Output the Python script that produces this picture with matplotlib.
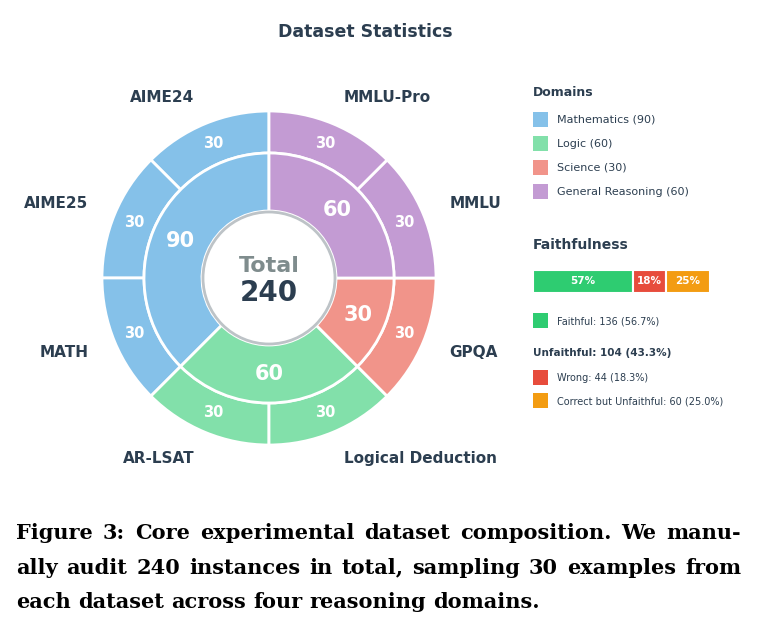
import matplotlib
matplotlib.use("Agg")
import matplotlib.pyplot as plt
from matplotlib.patches import Rectangle, Circle

domains = ["Mathematics", "Logic", "Science", "General Reasoning"]
domain_counts = [90, 60, 30, 60]
domain_colors = ["#85c1e9", "#82e0aa", "#f1948a", "#c39bd3"]
datasets = ["AIME24", "AIME25", "MATH", "AR-LSAT", "Logical Deduction", "GPQA", "MMLU", "MMLU-Pro"]
dataset_counts = [30, 30, 30, 30, 30, 30, 30, 30]
dataset_domain = [0, 0, 0, 1, 1, 2, 3, 3]
faith_labels = ["Faithful", "Wrong", "Correct but Unfaithful"]
faith_counts = [136, 44, 60]
faith_colors = ["#2ecc71", "#e74c3c", "#f39c12"]
total = sum(domain_counts)
dark = "#2c3e50"

W, H = 757, 632
fig = plt.figure(figsize=(W/100, H/100), dpi=100)

def fx(x): return x / W
def fy(y): return 1 - y / H

cx, cy, hs = 269, 278, 220
ax = fig.add_axes([fx(cx - hs), fy(cy + hs), 2*hs/W, 2*hs/H])
R = 167
ax.set_xlim(-hs, hs); ax.set_ylim(-hs, hs); ax.set_aspect("equal"); ax.axis("off")

outer_colors = [domain_colors[d] for d in dataset_domain]
wedges, texts, autot = ax.pie(dataset_counts, radius=R, startangle=90, counterclock=True,
       colors=outer_colors, labels=datasets, labeldistance=1.17,
       autopct=lambda p: f"{p*total/100:.0f}", pctdistance=(146/R),
       wedgeprops=dict(width=R-125, edgecolor="white", linewidth=2),
       textprops=dict(color=dark, fontsize=11, fontweight="bold"))
for t in autot:
    t.set_color("white"); t.set_fontsize(10.5)
w2, _, a2 = ax.pie(domain_counts, radius=125, startangle=90, counterclock=True,
       colors=domain_colors, autopct=lambda p: f"{p*total/100:.0f}", pctdistance=(96/125),
       wedgeprops=dict(width=125-67, edgecolor="white", linewidth=2),
       textprops=dict(color="white", fontsize=15, fontweight="bold"))
ax.set_xlim(-hs, hs); ax.set_ylim(-hs, hs)
ax.add_patch(Circle((0, 0), 66, facecolor="white", edgecolor="#bdc3c7", linewidth=2, zorder=5))
ax.text(0, 12, "Total", ha="center", va="center", fontsize=16, fontweight="bold", color="#7f8c8d", zorder=6)
ax.text(0, -15, str(total), ha="center", va="center", fontsize=20, fontweight="bold", color=dark, zorder=6)

fig.text(fx(365), fy(32), "Dataset Statistics", ha="center", va="center", fontsize=12.5,
         fontweight="bold", color=dark)

fig.text(fx(533), fy(92), "Domains", ha="left", va="center", fontsize=9, fontweight="bold", color=dark)
for i, (d, c, col) in enumerate(zip(domains, domain_counts, domain_colors)):
    y = 120 + 24*i
    fig.patches.append(Rectangle((fx(533), fy(y+7)), 15/W, 15/H, transform=fig.transFigure,
                                 facecolor=col, edgecolor="none"))
    fig.text(fx(557), fy(y), f"{d} ({c})", ha="left", va="center", fontsize=8, color=dark)

fig.text(fx(533), fy(245), "Faithfulness", ha="left", va="center", fontsize=10, fontweight="bold", color=dark)
bax = fig.add_axes([fx(533), fy(293), 177/W, 23/H])
left = 0
for c, col in zip(faith_counts, faith_colors):
    pct = c / total * 100
    bax.barh(0, pct, left=left, height=1, color=col, edgecolor="white", linewidth=1.5)
    bax.text(left + pct/2, 0, f"{pct:.0f}%", ha="center", va="center", color="white",
             fontsize=7.5, fontweight="bold")
    left += pct
bax.set_xlim(0, 100); bax.set_ylim(-0.5, 0.5); bax.axis("off")

def item(y, col, txt):
    fig.patches.append(Rectangle((fx(533), fy(y+7)), 15/W, 15/H, transform=fig.transFigure,
                                 facecolor=col, edgecolor="none"))
    fig.text(fx(557), fy(y), txt, ha="left", va="center", fontsize=7, color=dark)

item(321, faith_colors[0], f"Faithful: {faith_counts[0]} ({faith_counts[0]/total*100:.1f}%)")
unf = faith_counts[1] + faith_counts[2]
fig.text(fx(533), fy(353), f"Unfaithful: {unf} ({unf/total*100:.1f}%)", ha="left", va="center",
         fontsize=7.5, fontweight="bold", color=dark)
item(378, faith_colors[1], f"Wrong: {faith_counts[1]} ({faith_counts[1]/total*100:.1f}%)")
item(401, faith_colors[2], f"Correct but Unfaithful: {faith_counts[2]} ({faith_counts[2]/total*100:.1f}%)")

caption = ["Figure 3: Core experimental dataset composition. We manu-",
           "ally audit 240 instances in total, sampling 30 examples from",
           "each dataset across four reasoning domains."]
justify = [True, True, False]
cap_kw = dict(ha="left", va="center", fontsize=15, fontweight="bold",
              family="DejaVu Serif", color="black")
renderer = fig.canvas.get_renderer()
x0, x1 = 16, 741
for i, line in enumerate(caption):
    y = fy(533 + 34.5*i)
    words = line.split(" ")
    objs = [fig.text(0, y, w, **cap_kw) for w in words]
    widths = [o.get_window_extent(renderer).width for o in objs]
    space = fig.text(0, 0, "a a", **cap_kw).get_window_extent(renderer).width - \
            fig.text(0, 0, "aa", **cap_kw).get_window_extent(renderer).width
    gap = (x1 - x0 - sum(widths)) / (len(words) - 1) if justify[i] else space
    gap = max(gap, 0.6*space)
    x = x0
    for o, w in zip(objs, widths):
        o.set_x(fx(x))
        x += w + gap
for t in list(fig.texts):
    if t.get_text() in ("a a", "aa"):
        t.remove()

fig.savefig("out.png", dpi=100)
